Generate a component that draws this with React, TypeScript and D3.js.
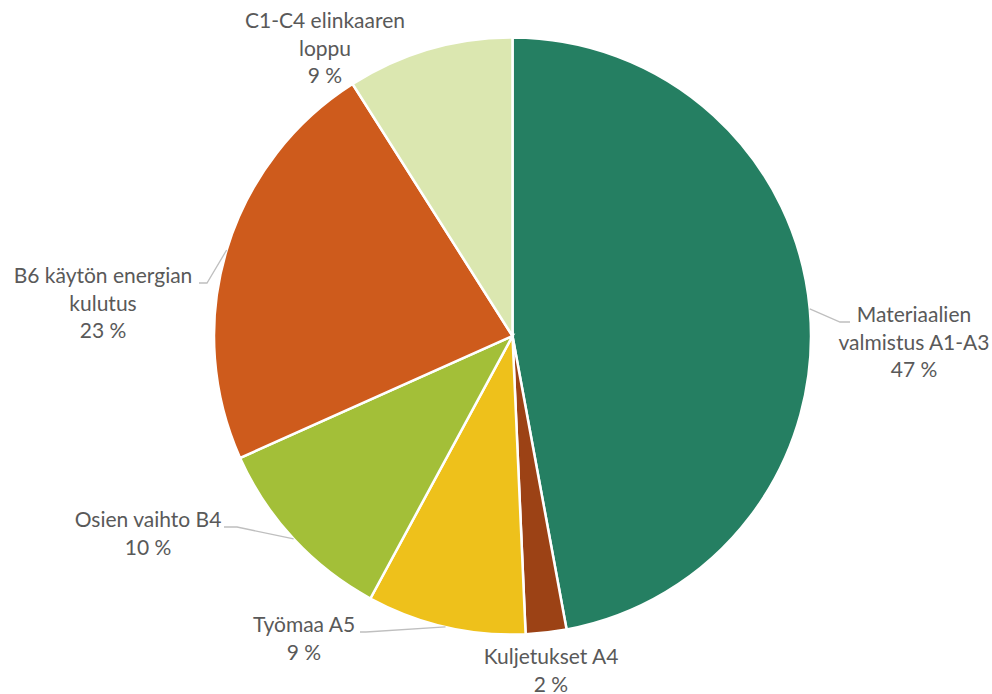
import React from "react";
import * as d3 from "d3";

const categories = [
  "Materiaalien valmistus A1-A3",
  "Kuljetukset A4",
  "Työmaa A5",
  "Osien vaihto B4",
  "B6 käytön energian kulutus",
  "C1-C4 elinkaaren loppu",
];
const values = [47.1, 2.2, 8.6, 10.4, 22.7, 9.0];
const labelLines = [
  ["Materiaalien", "valmistus A1-A3"],
  ["Kuljetukset A4"],
  ["Työmaa A5"],
  ["Osien vaihto B4"],
  ["B6 käytön energian", "kulutus"],
  ["C1-C4 elinkaaren", "loppu"],
];
const colors = ["#257F62", "#9C4215", "#EEC11B", "#A3BF38", "#CE5B1C", "#DBE7B0"];

// layout: label text center x, first baseline y, leader elbow/end (null = no leader)
const labelLayout = [
  { x: 914, y: 322, elbow: [840, 322], end: [850, 322] },
  { x: 551, y: 664, elbow: null, end: null },
  { x: 304, y: 632, elbow: [366, 632], end: [360, 632] },
  { x: 148, y: 527, elbow: [237, 527], end: [224, 527] },
  { x: 103, y: 283, elbow: [207, 283], end: [199, 283] },
  { x: 325, y: 28, elbow: null, end: null },
];

const W = 992;
const H = 694;
const CX = 512.5;
const CY = 336;
const R = 298.5;
const LINE_H = 27.5;

export default function App() {
  const total = d3.sum(values);
  const pie = d3
    .pie<number>()
    .sort(null)
    .value((d) => d)
    .startAngle(0)
    .endAngle(2 * Math.PI);
  const arcs = pie(values);
  const arc = d3.arc<d3.PieArcDatum<number>>().innerRadius(0).outerRadius(R);
  const edgeArc = d3.arc<d3.PieArcDatum<number>>().innerRadius(R).outerRadius(R);

  return (
    <svg
      width={W}
      height={H}
      style={{ position: "absolute", left: 0, top: 0, background: "#fff" }}
    >
      <g transform={`translate(${CX},${CY})`}>
        {arcs.map((a, i) => (
          <path key={i} d={arc(a) || ""} fill={colors[i]} stroke="#fff" strokeWidth={2.5} />
        ))}
      </g>
      {arcs.map((a, i) => {
        const L = labelLayout[i];
        if (!L.elbow || !L.end) return null;
        const [ex, ey] = edgeArc.centroid(a);
        const pts = [
          [CX + ex, CY + ey],
          L.elbow,
          L.end,
        ];
        return (
          <polyline
            key={"l" + i}
            points={pts.map((p) => p.join(",")).join(" ")}
            fill="none"
            stroke="#BFBFBF"
            strokeWidth={1.3}
          />
        );
      })}
      {arcs.map((a, i) => {
        const L = labelLayout[i];
        const lines = [...labelLines[i], `${Math.round((values[i] / total) * 100)} %`];
        return (
          <text
            key={"t" + i}
            x={L.x}
            y={L.y}
            textAnchor="middle"
            fontFamily="Lato, Carlito, Calibri, sans-serif"
            fontSize={21}
            fill="#595959"
          >
            {lines.map((t, j) => (
              <tspan key={j} x={L.x} y={L.y + j * LINE_H}>
                {t}
              </tspan>
            ))}
          </text>
        );
      })}
    </svg>
  );
}
